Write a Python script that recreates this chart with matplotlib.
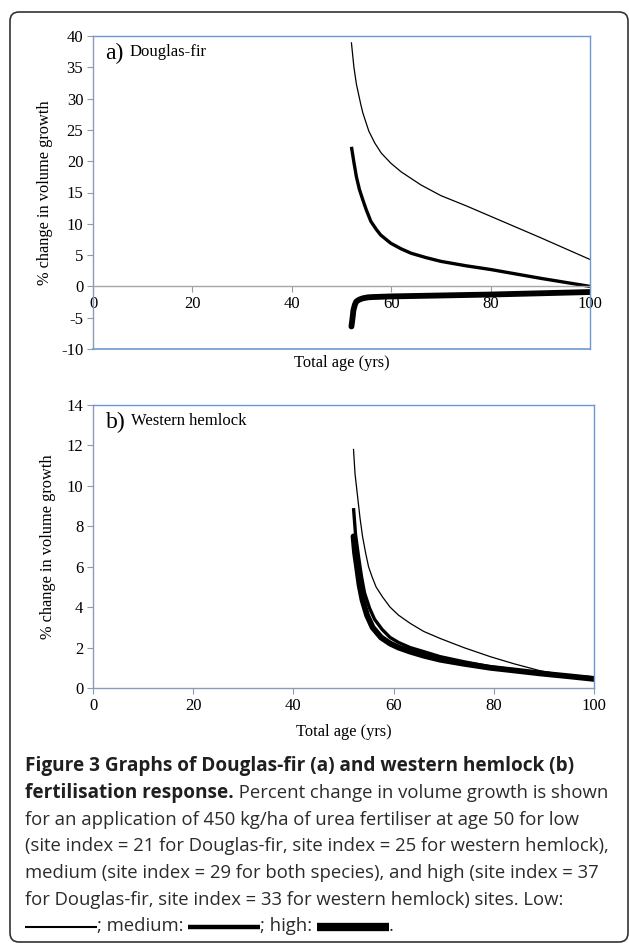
import numpy as np
import matplotlib
matplotlib.use("Agg")
import matplotlib.pyplot as plt
from matplotlib.lines import Line2D
from matplotlib.patches import FancyBboxPatch
from matplotlib.transforms import IdentityTransform

# ---------------------------------------------------------------------------
# Data (age in years, % change in volume growth)
# ---------------------------------------------------------------------------
# a) Douglas-fir
df_low_age = [52, 52.5, 53, 53.9, 54.3, 55.5, 56.7, 58, 59.9, 62, 66, 70, 75, 80, 90, 100]
df_low_val = [38.9, 35.0, 32.3, 29.0, 27.7, 24.8, 22.9, 21.3, 19.7, 18.3, 16.2, 14.5, 12.9, 11.2, 7.8, 4.3]

df_med_age = [52, 52.5, 53, 53.6, 54.3, 55, 55.9, 57, 57.9, 59.9, 62, 64, 67, 70, 75, 80, 85, 90, 95, 100]
df_med_val = [22.3, 19.8, 17.5, 15.5, 13.8, 12.2, 10.4, 9.1, 8.2, 6.9, 6.0, 5.3, 4.6, 4.0, 3.3, 2.7, 2.0, 1.3, 0.65, 0.0]

df_high_age = [52, 52.2, 52.4, 52.7, 53, 53.6, 54.3, 55.3, 56.3, 60, 70, 80, 90, 100]
df_high_val = [-6.4, -5.2, -3.8, -2.9, -2.4, -2.1, -1.9, -1.75, -1.7, -1.6, -1.45, -1.3, -1.1, -0.9]

# b) Western hemlock
wh_low_age = [52, 52.3, 52.8, 53.3, 53.8, 54.4, 55, 55.7, 56.5, 57.8, 59.3, 61, 63.3, 66, 69.3, 74, 79.3, 84, 89.3, 95, 100]
wh_low_val = [11.8, 10.6, 9.5, 8.4, 7.5, 6.7, 6.0, 5.5, 5.0, 4.5, 4.0, 3.6, 3.2, 2.8, 2.45, 2.0, 1.55, 1.2, 0.85, 0.62, 0.55]

wh_med_age = [52, 52.4, 53, 53.6, 54.2, 55.2, 56.2, 57.7, 59.3, 61, 63.3, 66, 69.3, 74, 79.3, 84, 89.3, 95, 100]
wh_med_val = [8.9, 7.6, 6.5, 5.5, 4.7, 3.95, 3.4, 2.9, 2.5, 2.25, 2.0, 1.8, 1.55, 1.3, 1.05, 0.9, 0.72, 0.6, 0.5]

wh_high_age = [52, 52.3, 52.7, 53.2, 53.8, 54.7, 55.8, 57.5, 59.3, 61, 63.3, 66, 69.3, 74, 79.3, 84, 89.3, 95, 100]
wh_high_val = [7.5, 6.7, 6.0, 5.1, 4.35, 3.6, 3.0, 2.5, 2.2, 2.0, 1.8, 1.6, 1.4, 1.2, 1.0, 0.87, 0.72, 0.58, 0.45]

x_ticks = [0, 20, 40, 60, 80, 100]
a_yticks = [-10, -5, 0, 5, 10, 15, 20, 25, 30, 35, 40]
b_yticks = [0, 2, 4, 6, 8, 10, 12, 14]

caption_bold_1 = "Figure 3 Graphs of Douglas-fir (a) and western hemlock (b)"
caption_bold_2 = "fertilisation response."
caption_rest_2 = " Percent change in volume growth is shown"
caption_lines = [
    "for an application of 450 kg/ha of urea fertiliser at age 50 for low",
    "(site index = 21 for Douglas-fir, site index = 25 for western hemlock),",
    "medium (site index = 29 for both species), and high (site index = 37",
    "for Douglas-fir, site index = 33 for western hemlock) sites. Low:",
]

# ---------------------------------------------------------------------------
plt.rcParams["font.family"] = "Liberation Serif"
plt.rcParams["axes.unicode_minus"] = False

W, H = 629, 943
SANS = "Open Sans"
FRAME = "#6d97cf"
AXIS = "#8a9bb3"
TXT = "#2b2b2b"

fig = plt.figure(figsize=(W / 100, H / 100), dpi=100)


def fx(x):
    return x / W


def fy(y):
    return 1 - y / H


def style_axes(ax, yticks, ylab_x):
    for s in ax.spines.values():
        s.set_color(FRAME)
        s.set_linewidth(1.0)
    ax.spines["left"].set_color(AXIS)
    ax.set_xlim(0, 100)
    ax.set_xticks(x_ticks)
    ax.set_yticks(yticks)
    ax.set_ylim(yticks[0], yticks[-1])
    ax.tick_params(axis="both", direction="out", length=4, width=0.8,
                   color=AXIS, labelsize=12, pad=3)
    ax.set_ylabel("% change in volume growth", fontsize=11.8)
    ax.yaxis.set_label_coords(ylab_x, 0.5)
    ax.yaxis.label.set_va("center")
    ax.set_xlabel("Total age (yrs)", fontsize=11.8)


# --- panel a ---------------------------------------------------------------
ax1 = fig.add_axes([fx(93), fy(349), (590 - 93) / W, (349 - 36) / H])
ax1.plot(df_low_age, df_low_val, color="black", lw=0.9)
ax1.plot(df_med_age, df_med_val, color="black", lw=2.4, solid_capstyle="butt")
ax1.plot(df_high_age, df_high_val, color="black", lw=4.2, solid_capstyle="round")
style_axes(ax1, a_yticks, (45 - 93) / (590 - 93))
ax1.spines["bottom"].set_position(("data", 0))
ax1.spines["bottom"].set_color("#a6a6a6")
ax1.axhline(a_yticks[0], color=FRAME, lw=1.2, clip_on=False)
ax1.xaxis.set_label_coords(0.5, (349 - 363) / (349 - 36))
ax1.xaxis.label.set_va("center")
t = ax1.text(0.025, 0.945, "a)", fontsize=17, va="center", transform=ax1.transAxes)
ax1.annotate("Douglas-fir", xy=(1, 0.18), xycoords=t, xytext=(4, 0),
             textcoords="offset points", fontsize=12, va="bottom")

# --- panel b ---------------------------------------------------------------
ax2 = fig.add_axes([fx(93), fy(688), (594 - 93) / W, (688 - 405) / H])
ax2.plot(wh_low_age, wh_low_val, color="black", lw=0.9)
ax2.plot(wh_med_age, wh_med_val, color="black", lw=2.4, solid_capstyle="butt")
ax2.plot(wh_high_age, wh_high_val, color="black", lw=4.2, solid_capstyle="round")
style_axes(ax2, b_yticks, (48 - 93) / (594 - 93))
ax2.spines["bottom"].set_color(AXIS)
ax2.xaxis.set_label_coords(0.5, (688 - 732) / (688 - 405))
ax2.xaxis.label.set_va("center")
t = ax2.text(0.025, 0.94, "b)", fontsize=17, va="center", transform=ax2.transAxes)
ax2.annotate("Western hemlock", xy=(1, 0.18), xycoords=t, xytext=(4, 0),
             textcoords="offset points", fontsize=12, va="bottom")

# --- outer rounded frame ------------------------------------------------------
frame = FancyBboxPatch((10, 1), 618, 930, boxstyle="round,pad=0,rounding_size=9",
                       transform=IdentityTransform(), fill=False,
                       edgecolor="#333333", lw=1.2)
fig.add_artist(frame)

# --- caption ----------------------------------------------------------------
BOLD_FS = 13.7
CAP_FS = 13.3
line_y = [766, 793, 820, 846, 873, 900, 926]
x0 = 25
fig.text(fx(x0), fy(line_y[0]), caption_bold_1, fontfamily=SANS, fontweight="bold",
         fontsize=BOLD_FS, color="#1f1f1f", va="center")
tb = fig.text(fx(x0), fy(line_y[1]), caption_bold_2, fontfamily=SANS, fontweight="bold",
              fontsize=BOLD_FS, color="#1f1f1f", va="center")
fig.canvas.draw()
bb = tb.get_window_extent()
fig.text(fx(bb.x1), fy(line_y[1]), caption_rest_2, fontfamily=SANS,
         fontsize=CAP_FS, color=TXT, va="center")
for txt, y in zip(caption_lines, line_y[2:6]):
    fig.text(fx(x0), fy(y), txt, fontfamily=SANS, fontsize=CAP_FS, color=TXT, va="center")

# last line: inline line-style samples
y7 = line_y[6]
cur = x0
pieces = [("line", 1.5), ("text", "; medium: "), ("line", 3.2),
          ("text", "; high: "), ("line", 6.0), ("text", ".")]
for kind, val in pieces:
    if kind == "line":
        fig.add_artist(Line2D([fx(cur), fx(cur + 72)], [fy(y7 + 1), fy(y7 + 1)],
                              transform=fig.transFigure, color="black", lw=val,
                              solid_capstyle="butt"))
        cur += 72
    else:
        tt = fig.text(fx(cur), fy(y7), val, fontfamily=SANS, fontsize=CAP_FS,
                      color=TXT, va="center")
        fig.canvas.draw()
        cur = tt.get_window_extent().x1

fig.savefig("out.png", dpi=100)
